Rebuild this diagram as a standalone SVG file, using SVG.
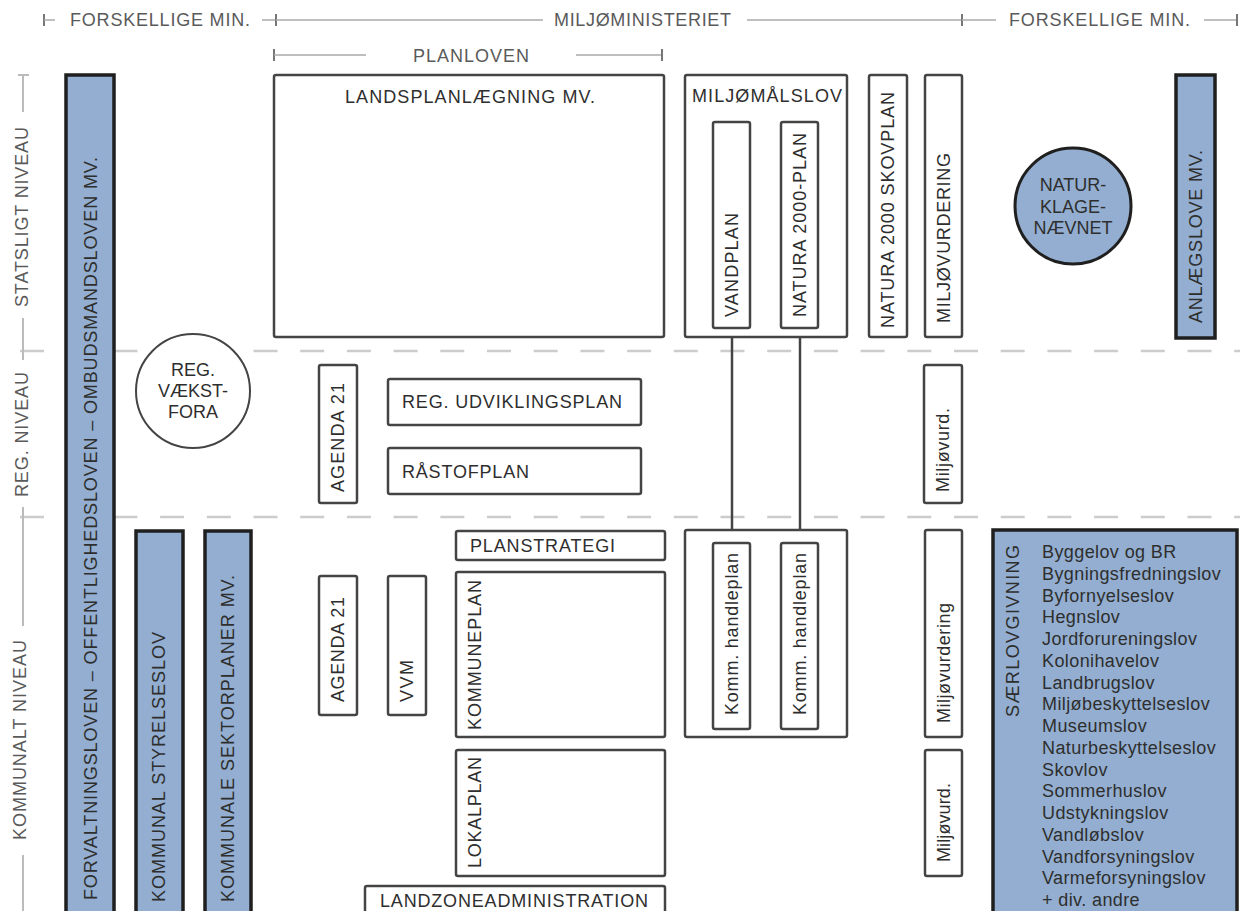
<svg xmlns="http://www.w3.org/2000/svg" width="1240" height="911" viewBox="0 0 1240 911">
<style>
.bg{fill:#fff}
.box{fill:#fff;stroke:#444;stroke-width:2.5}
.blue{fill:#93aed0;stroke:#1f1f1f;stroke-width:3.5}
.t{font-family:"Liberation Sans",Arial,sans-serif;font-size:18px;fill:#2e2e2e}
.ax{fill:#5a5a5a}
.hl{stroke:#aaa;stroke-width:1.5;fill:none}
.tk{stroke:#777;stroke-width:2;fill:none}
.al{stroke:#bbb;stroke-width:2;fill:none}
.dash{stroke:#ccc;stroke-width:2.5;stroke-dasharray:24 22.7;fill:none}
.con{stroke:#444;stroke-width:2.5;fill:none}
</style>
<rect class="bg" x="0" y="0" width="1240" height="911"/>

<g id="header">
  <line class="tk" x1="44" y1="14" x2="44" y2="26"/>
  <line class="hl" x1="44" y1="20" x2="55" y2="20"/>
  <text class="t ax" x="70" y="20" dominant-baseline="central" textLength="180" lengthAdjust="spacing">FORSKELLIGE MIN.</text>
  <line class="hl" x1="262" y1="20" x2="276" y2="20"/>
  <line class="tk" x1="276" y1="14" x2="276" y2="26"/>
  <line class="hl" x1="276" y1="20" x2="543" y2="20"/>
  <text class="t ax" x="554" y="20" dominant-baseline="central" textLength="177" lengthAdjust="spacing">MILJØMINISTERIET</text>
  <line class="hl" x1="747" y1="20" x2="962" y2="20"/>
  <line class="tk" x1="962" y1="14" x2="962" y2="26"/>
  <line class="hl" x1="962" y1="20" x2="996" y2="20"/>
  <text class="t ax" x="1009" y="20" dominant-baseline="central" textLength="181" lengthAdjust="spacing">FORSKELLIGE MIN.</text>
  <line class="hl" x1="1204" y1="20" x2="1237" y2="20"/>
  <line class="tk" x1="1237" y1="14" x2="1237" y2="26"/>

  <line class="tk" x1="274" y1="49" x2="274" y2="61"/>
  <line class="hl" x1="274" y1="55" x2="366" y2="55"/>
  <text class="t ax" x="413" y="56" dominant-baseline="central" textLength="116" lengthAdjust="spacing">PLANLOVEN</text>
  <line class="hl" x1="576" y1="55" x2="662" y2="55"/>
  <line class="tk" x1="662" y1="49" x2="662" y2="61"/>
</g>

<g id="levels">
  <line class="dash" x1="20" y1="351" x2="1240" y2="351"/>
  <line class="dash" x1="20" y1="517" x2="1240" y2="517"/>
  <line class="al" x1="23" y1="75" x2="23" y2="112"/>
  <line class="al" x1="18" y1="75" x2="29" y2="75"/>
  <line class="al" x1="23" y1="318" x2="23" y2="360"/>
  <line class="al" x1="23" y1="507" x2="23" y2="626"/>
  <line class="al" x1="23" y1="855" x2="23" y2="911"/>
  <text class="t ax" transform="translate(22,307) rotate(-90)" dominant-baseline="central" textLength="180" lengthAdjust="spacing">STATSLIGT NIVEAU</text>
  <text class="t ax" transform="translate(22,497) rotate(-90)" dominant-baseline="central" textLength="125" lengthAdjust="spacing">REG. NIVEAU</text>
  <text class="t ax" transform="translate(20,840) rotate(-90)" dominant-baseline="central" textLength="200" lengthAdjust="spacing">KOMMUNALT NIVEAU</text>
</g>

<g id="connectors">
  <line class="con" x1="732" y1="338" x2="732" y2="530"/>
  <line class="con" x1="800" y1="338" x2="800" y2="530"/>
</g>

<g id="forvaltningsloven">
  <rect class="blue" x="66" y="75" width="48" height="845"/>
  <text class="t" transform="translate(91,900) rotate(-90)" dominant-baseline="central" textLength="743" lengthAdjust="spacing">FORVALTNINGSLOVEN – OFFENTLIGHEDSLOVEN – OMBUDSMANDSLOVEN MV.</text>
</g>
<g id="kommunal-styrelseslov">
  <rect class="blue" x="136" y="531" width="47" height="390"/>
  <text class="t" transform="translate(159,902) rotate(-90)" dominant-baseline="central" textLength="270" lengthAdjust="spacing">KOMMUNAL STYRELSESLOV</text>
</g>
<g id="kommunale-sektorplaner">
  <rect class="blue" x="205" y="531" width="46" height="390"/>
  <text class="t" transform="translate(228,902) rotate(-90)" dominant-baseline="central" textLength="327" lengthAdjust="spacing">KOMMUNALE SEKTORPLANER MV.</text>
</g>
<g id="reg-vaekstfora">
  <circle cx="193" cy="391" r="57" fill="#fff" stroke="#444" stroke-width="2"/>
  <text class="t" x="193" y="370" text-anchor="middle" dominant-baseline="central">REG.</text>
  <text class="t" x="193" y="391" text-anchor="middle" dominant-baseline="central">VÆKST-</text>
  <text class="t" x="193" y="412" text-anchor="middle" dominant-baseline="central">FORA</text>
</g>

<g id="landsplanlaegning">
  <rect class="box" x="274" y="75" width="390" height="262" rx="2"/>
  <text class="t" x="345" y="97" dominant-baseline="central" textLength="250" lengthAdjust="spacing">LANDSPLANLÆGNING MV.</text>
</g>
<g id="miljomaalslov">
  <rect class="box" x="685" y="75" width="162" height="262" rx="2"/>
  <text class="t" x="692" y="96" dominant-baseline="central" textLength="150" lengthAdjust="spacing">MILJØMÅLSLOV</text>
</g>
<g id="vandplan">
  <rect class="box" x="713" y="122" width="37" height="206" rx="2"/>
  <text class="t" transform="translate(732,317) rotate(-90)" dominant-baseline="central" textLength="104" lengthAdjust="spacing">VANDPLAN</text>
</g>
<g id="natura2000-plan">
  <rect class="box" x="781" y="122" width="37" height="206" rx="2"/>
  <text class="t" transform="translate(800,317) rotate(-90)" dominant-baseline="central" textLength="184" lengthAdjust="spacing">NATURA 2000-PLAN</text>
</g>
<g id="natura2000-skovplan">
  <rect class="box" x="869" y="75" width="38" height="262" rx="2"/>
  <text class="t" transform="translate(888,328) rotate(-90)" dominant-baseline="central" textLength="236" lengthAdjust="spacing">NATURA 2000 SKOVPLAN</text>
</g>
<g id="miljovurdering-stat">
  <rect class="box" x="925" y="75" width="37" height="262" rx="2"/>
  <text class="t" transform="translate(944,323) rotate(-90)" dominant-baseline="central" textLength="170" lengthAdjust="spacing">MILJØVURDERING</text>
</g>
<g id="naturklagenaevnet">
  <circle cx="1073" cy="206" r="58" fill="#93aed0" stroke="#1f1f1f" stroke-width="3"/>
  <text class="t" x="1073" y="185" text-anchor="middle" dominant-baseline="central">NATUR-</text>
  <text class="t" x="1073" y="207" text-anchor="middle" dominant-baseline="central">KLAGE-</text>
  <text class="t" x="1073" y="228" text-anchor="middle" dominant-baseline="central">NÆVNET</text>
</g>
<g id="anlaegslove">
  <rect class="blue" x="1176" y="75" width="39" height="263"/>
  <text class="t" transform="translate(1196,323) rotate(-90)" dominant-baseline="central" textLength="173" lengthAdjust="spacing">ANLÆGSLOVE MV.</text>
</g>

<g id="agenda21-reg">
  <rect class="box" x="319" y="365" width="38" height="138" rx="2"/>
  <text class="t" transform="translate(338,492) rotate(-90)" dominant-baseline="central" textLength="109" lengthAdjust="spacing">AGENDA 21</text>
</g>
<g id="reg-udviklingsplan">
  <rect class="box" x="388" y="379" width="253" height="46" rx="2"/>
  <text class="t" x="402" y="402" dominant-baseline="central" textLength="220" lengthAdjust="spacing">REG. UDVIKLINGSPLAN</text>
</g>
<g id="raastofplan">
  <rect class="box" x="388" y="448" width="253" height="46" rx="2"/>
  <text class="t" x="402" y="472" dominant-baseline="central" textLength="127" lengthAdjust="spacing">RÅSTOFPLAN</text>
</g>
<g id="miljovurd-reg">
  <rect class="box" x="924" y="365" width="38" height="138" rx="2"/>
  <text class="t" transform="translate(943,492) rotate(-90)" dominant-baseline="central" textLength="84" lengthAdjust="spacing">Miljøvurd.</text>
</g>

<g id="planstrategi">
  <rect class="box" x="456" y="531" width="209" height="29" rx="2"/>
  <text class="t" x="470" y="546" dominant-baseline="central" textLength="145" lengthAdjust="spacing">PLANSTRATEGI</text>
</g>
<g id="kommuneplan">
  <rect class="box" x="456" y="572" width="209" height="165" rx="2"/>
  <text class="t" transform="translate(475,730) rotate(-90)" dominant-baseline="central" textLength="150" lengthAdjust="spacing">KOMMUNEPLAN</text>
</g>
<g id="lokalplan">
  <rect class="box" x="456" y="750" width="209" height="126" rx="2"/>
  <text class="t" transform="translate(475,868) rotate(-90)" dominant-baseline="central" textLength="111" lengthAdjust="spacing">LOKALPLAN</text>
</g>
<g id="agenda21-komm">
  <rect class="box" x="319" y="576" width="38" height="139" rx="2"/>
  <text class="t" transform="translate(338,702) rotate(-90)" dominant-baseline="central" textLength="105" lengthAdjust="spacing">AGENDA 21</text>
</g>
<g id="vvm">
  <rect class="box" x="388" y="576" width="38" height="139" rx="2"/>
  <text class="t" transform="translate(407,702) rotate(-90)" dominant-baseline="central" textLength="42" lengthAdjust="spacing">VVM</text>
</g>
<g id="landzoneadministration">
  <rect class="box" x="365" y="886" width="300" height="40" rx="2"/>
  <text class="t" x="380" y="901" dominant-baseline="central" textLength="268" lengthAdjust="spacing">LANDZONEADMINISTRATION</text>
</g>
<g id="komm-group">
  <rect class="box" x="685" y="530" width="162" height="207" rx="2"/>
</g>
<g id="komm-handleplan-1">
  <rect class="box" x="713" y="543" width="37" height="186" rx="2"/>
  <text class="t" transform="translate(732,715) rotate(-90)" dominant-baseline="central" textLength="162" lengthAdjust="spacing">Komm. handleplan</text>
</g>
<g id="komm-handleplan-2">
  <rect class="box" x="781" y="543" width="37" height="186" rx="2"/>
  <text class="t" transform="translate(800,715) rotate(-90)" dominant-baseline="central" textLength="162" lengthAdjust="spacing">Komm. handleplan</text>
</g>
<g id="miljovurdering-komm">
  <rect class="box" x="925" y="530" width="37" height="207" rx="2"/>
  <text class="t" transform="translate(944,723) rotate(-90)" dominant-baseline="central" textLength="120" lengthAdjust="spacing">Miljøvurdering</text>
</g>
<g id="miljovurd-komm">
  <rect class="box" x="925" y="750" width="37" height="126" rx="2"/>
  <text class="t" transform="translate(944,862) rotate(-90)" dominant-baseline="central" textLength="79" lengthAdjust="spacing">Miljøvurd.</text>
</g>
<g id="saerlovgivning">
  <rect class="blue" x="993" y="530" width="244" height="400"/>
  <text class="t" transform="translate(1013,717) rotate(-90)" dominant-baseline="central" textLength="172" lengthAdjust="spacing">SÆRLOVGIVNING</text>
  <g class="t" style="letter-spacing:0.4px">
    <text x="1042" y="552" dominant-baseline="central">Byggelov og BR</text>
    <text x="1042" y="573.75" dominant-baseline="central">Bygningsfredningslov</text>
    <text x="1042" y="595.5" dominant-baseline="central">Byfornyelseslov</text>
    <text x="1042" y="617.25" dominant-baseline="central">Hegnslov</text>
    <text x="1042" y="639" dominant-baseline="central">Jordforureningslov</text>
    <text x="1042" y="660.75" dominant-baseline="central">Kolonihavelov</text>
    <text x="1042" y="682.5" dominant-baseline="central">Landbrugslov</text>
    <text x="1042" y="704.25" dominant-baseline="central">Miljøbeskyttelseslov</text>
    <text x="1042" y="726" dominant-baseline="central">Museumslov</text>
    <text x="1042" y="747.75" dominant-baseline="central">Naturbeskyttelseslov</text>
    <text x="1042" y="769.5" dominant-baseline="central">Skovlov</text>
    <text x="1042" y="791.25" dominant-baseline="central">Sommerhuslov</text>
    <text x="1042" y="813" dominant-baseline="central">Udstykningslov</text>
    <text x="1042" y="834.75" dominant-baseline="central">Vandløbslov</text>
    <text x="1042" y="856.5" dominant-baseline="central">Vandforsyningslov</text>
    <text x="1042" y="878.25" dominant-baseline="central">Varmeforsyningslov</text>
    <text x="1042" y="900" dominant-baseline="central">+ div. andre</text>
  </g>
</g>
</svg>
